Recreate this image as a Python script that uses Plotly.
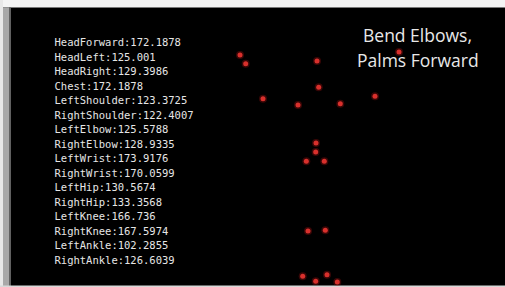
import plotly.graph_objects as go

# Joint readouts shown on the left
joint_names = ["HeadForward", "HeadLeft", "HeadRight", "Chest", "LeftShoulder",
               "RightShoulder", "LeftElbow", "RightElbow", "LeftWrist", "RightWrist",
               "LeftHip", "RightHip", "LeftKnee", "RightKnee", "LeftAnkle", "RightAnkle"]
joint_values = ["172.1878", "125.001", "129.3986", "172.1878", "123.3725",
                "122.4007", "125.5788", "128.9335", "173.9176", "170.0599",
                "130.5674", "133.3568", "166.736", "167.5974", "102.2855", "126.6039"]

# Tracked points (screen coordinates, y downward)
point_x = [240, 245.7, 317, 399, 318.7, 263, 298, 340.3, 375,
           316, 315.7, 306.3, 324.3, 308, 325.3, 302.7, 327, 315.7, 337.3]
point_y = [55, 63.7, 61, 52, 87.3, 98.7, 105, 103.7, 96.3,
           143, 152, 161.3, 161.3, 231, 230.3, 276.3, 274.7, 281.3, 282]

title_lines = ["Bend Elbows,", "Palms Forward"]

W, H = 505, 287
fig = go.Figure()

# label text trace
label_top, label_step = 43.7, 14.49
fig.add_trace(go.Scatter(
    x=[54.5] * len(joint_names),
    y=[label_top + i * label_step for i in range(len(joint_names))],
    mode="text",
    text=[f"{n}:{v}" for n, v in zip(joint_names, joint_values)],
    textposition="middle right",
    textfont=dict(family="DejaVu Sans Mono", size=10.5, color="#e6e6e6"),
    hoverinfo="skip", showlegend=False,
))

# glow + points
fig.add_trace(go.Scatter(
    x=point_x, y=point_y, mode="markers",
    marker=dict(size=8, color="rgba(190,20,20,0.3)", symbol="circle", line=dict(width=0)),
    hoverinfo="skip", showlegend=False,
))
fig.add_trace(go.Scatter(
    x=point_x, y=point_y, mode="markers",
    marker=dict(size=5, color="#d8302c", symbol="circle", line=dict(width=0)),
    hoverinfo="skip", showlegend=False,
))

# title
fig.add_annotation(x=417, y=35, xref="x", yref="y", text=title_lines[0], showarrow=False,
                   font=dict(family="Open Sans", size=17.5, color="#e8e8e8"))
fig.add_annotation(x=418, y=60, xref="x", yref="y", text=title_lines[1], showarrow=False,
                   font=dict(family="Open Sans", size=17.5, color="#e8e8e8"))

# window chrome
shapes = [
    dict(type="rect", xref="x", yref="y", x0=0, x1=W, y0=0, y1=7.5, fillcolor="#f4f4f4", line_width=0, layer="below"),
    dict(type="rect", xref="x", yref="y", x0=0, x1=3, y0=0, y1=H, fillcolor="#e8e8e8", line_width=0, layer="below"),
    dict(type="rect", xref="x", yref="y", x0=3, x1=9, y0=7.5, y1=H, fillcolor="#a8a8a8", line_width=0, layer="below"),
    dict(type="rect", xref="x", yref="y", x0=9, x1=11, y0=7.5, y1=H, fillcolor="#606060", line_width=0, layer="below"),
    dict(type="rect", xref="x", yref="y", x0=0, x1=W, y0=285.5, y1=H, fillcolor="#d8d8d8", line_width=0, layer="below"),
]

fig.update_layout(
    width=W, height=H,
    margin=dict(l=0, r=0, t=0, b=0),
    paper_bgcolor="#000000", plot_bgcolor="#000000",
    xaxis=dict(range=[0, W], visible=False, fixedrange=True),
    yaxis=dict(range=[H, 0], visible=False, fixedrange=True),
    shapes=shapes,
    showlegend=False,
)
fig.write_html(
    "out.html",
    config={"displayModeBar": False},
    post_script="document.body.style.margin='0';document.body.style.overflow='hidden';",
)
